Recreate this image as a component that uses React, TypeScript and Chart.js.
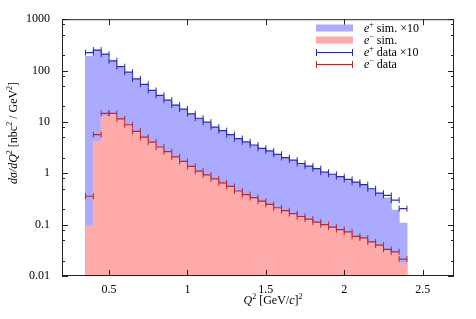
import { useEffect, useRef } from 'react';
import { Chart, registerables } from 'chart.js';

Chart.register(...registerables);

// Q^2 bins (lower edges, GeV^2), width 0.05
const binLow = [
  0.35, 0.4, 0.45, 0.5, 0.55, 0.6, 0.65, 0.7, 0.75, 0.8,
  0.85, 0.9, 0.95, 1.0, 1.05, 1.1, 1.15, 1.2, 1.25, 1.3,
  1.35, 1.4, 1.45, 1.5, 1.55, 1.6, 1.65, 1.7, 1.75, 1.8,
  1.85, 1.9, 1.95, 2.0, 2.05, 2.1, 2.15, 2.2, 2.25, 2.3, 2.35,
];
const binWidth = 0.05;

const ePlusSimX10 = [
  188, 248, 205, 152, 117, 91, 68, 53, 40.5, 32.5,
  26, 21, 17.5, 14.1, 11.6, 9.7, 7.8, 6.65, 5.55, 4.65,
  4.0, 3.48, 3.0, 2.66, 2.3, 1.98, 1.76, 1.52, 1.35, 1.2,
  1.02, 0.94, 0.84, 0.74, 0.655, 0.585, 0.49, 0.4, 0.33, 0.19, 0.107,
];
const eMinusSim = [
  0.095, 4.2, 12.8, 14.4, 11.3, 8.6, 6.45, 4.95, 3.95, 3.18,
  2.58, 2.05, 1.67, 1.33, 1.08, 0.91, 0.765, 0.64, 0.545, 0.443,
  0.377, 0.33, 0.28, 0.242, 0.209, 0.183, 0.161, 0.141, 0.125, 0.11,
  0.098, 0.088, 0.078, 0.07, 0.058, 0.054, 0.045, 0.039, 0.032, 0.0285, 0.018,
];
const ePlusDataX10 = [
  224, 250, 208, 155, 119, 93, 69, 54, 41, 33,
  26.5, 21.3, 17.8, 14.3, 11.8, 9.9, 7.95, 6.76, 5.66, 4.75,
  4.1, 3.55, 3.05, 2.72, 2.34, 2.02, 1.8, 1.55, 1.38, 1.23,
  1.05, 0.957, 0.86, 0.76, 0.67, 0.6, 0.5, 0.41, 0.37, 0.3, 0.205,
];
const eMinusData = [
  0.357, 5.66, 14.7, 14.7, 11.5, 8.8, 6.57, 5.05, 4.05, 3.25,
  2.64, 2.09, 1.7, 1.36, 1.1, 0.93, 0.78, 0.65, 0.556, 0.452,
  0.385, 0.337, 0.286, 0.247, 0.213, 0.187, 0.164, 0.144, 0.128, 0.112,
  0.1, 0.0896, 0.08, 0.072, 0.059, 0.055, 0.046, 0.04, 0.033, 0.0294, 0.0213,
];

const xTicks = [0.5, 1, 1.5, 2, 2.5];
const yTicks = [0.01, 0.1, 1, 10, 100, 1000];
const yMinorMultipliers = [2, 5, 8];

const BLUE_FILL = '#aaaaff';
const RED_FILL = '#ffaaaa';
const BLUE_LINE = '#2a2ab8';
const RED_LINE = '#b82a2a';
const FONT = '"Liberation Serif", "DejaVu Serif", serif';

type Part = { t: string; it?: boolean; sup?: boolean };

function drawRich(ctx: CanvasRenderingContext2D, parts: Part[], x: number, y: number, size: number, align: 'left' | 'center') {
  const fontFor = (p: Part) => `${p.it ? 'italic ' : ''}${p.sup ? Math.round(size * 0.7) : size}px ${FONT}`;
  let w = 0;
  for (const p of parts) {
    ctx.font = fontFor(p);
    w += ctx.measureText(p.t).width;
  }
  let cx = align === 'center' ? x - w / 2 : x;
  ctx.textAlign = 'left';
  ctx.textBaseline = 'alphabetic';
  for (const p of parts) {
    ctx.font = fontFor(p);
    ctx.fillText(p.t, cx, p.sup ? y - size * 0.38 : y);
    cx += ctx.measureText(p.t).width;
  }
}

const barPoints = (vals: number[]) => binLow.map((x, i) => ({ x: x + binWidth / 2, y: vals[i] }));

const errPoints = (vals: number[]) =>
  binLow.flatMap((x, i) => [
    { x, y: vals[i] as number | null },
    { x: x + binWidth, y: vals[i] as number | null },
    { x: x + binWidth, y: null as number | null },
  ]);

const legendItems: { kind: 'fill' | 'err'; color: string; parts: Part[] }[] = [
  { kind: 'fill', color: BLUE_FILL, parts: [{ t: 'e', it: true }, { t: '+', sup: true }, { t: ' sim. ×10' }] },
  { kind: 'fill', color: RED_FILL, parts: [{ t: 'e', it: true }, { t: '−', sup: true }, { t: ' sim.' }] },
  { kind: 'err', color: BLUE_LINE, parts: [{ t: 'e', it: true }, { t: '+', sup: true }, { t: ' data ×10' }] },
  { kind: 'err', color: RED_LINE, parts: [{ t: 'e', it: true }, { t: '−', sup: true }, { t: ' data' }] },
];

const framePlugin = {
  id: 'frameAndLabels',
  afterDatasetsDraw(chart: any) {
    const { ctx, chartArea: a, scales } = chart;
    const xs = scales.x;
    const ys = scales.y;
    ctx.save();
    ctx.strokeStyle = '#222';
    ctx.lineWidth = 1;
    ctx.strokeRect(a.left + 0.5, a.top + 0.5, a.right - a.left - 1, a.bottom - a.top - 1);
    ctx.beginPath();
    for (const v of xTicks) {
      const px = Math.round(xs.getPixelForValue(v)) + 0.5;
      ctx.moveTo(px, a.bottom);
      ctx.lineTo(px, a.bottom - 6);
      ctx.moveTo(px, a.top);
      ctx.lineTo(px, a.top + 6);
    }
    for (const v of yTicks) {
      const py = Math.round(ys.getPixelForValue(v)) + 0.5;
      ctx.moveTo(a.left, py);
      ctx.lineTo(a.left + 6, py);
      ctx.moveTo(a.right, py);
      ctx.lineTo(a.right - 6, py);
      if (v < 1000) {
        for (const m of yMinorMultipliers) {
          const pm = Math.round(ys.getPixelForValue(v * m)) + 0.5;
          ctx.moveTo(a.left, pm);
          ctx.lineTo(a.left + 3, pm);
          ctx.moveTo(a.right, pm);
          ctx.lineTo(a.right - 3, pm);
        }
      }
    }
    ctx.stroke();

    // legend
    const rowY = [28, 40, 52, 64];
    legendItems.forEach((it, i) => {
      const cy = rowY[i];
      if (it.kind === 'fill') {
        ctx.fillStyle = it.color;
        ctx.fillRect(316, cy - 3.5, 37, 7);
      } else {
        ctx.strokeStyle = it.color;
        ctx.lineWidth = 1;
        ctx.beginPath();
        ctx.moveTo(316, cy + 0.5);
        ctx.lineTo(353, cy + 0.5);
        ctx.moveTo(316.5, cy - 3);
        ctx.lineTo(316.5, cy + 4);
        ctx.moveTo(352.5, cy - 3);
        ctx.lineTo(352.5, cy + 4);
        ctx.stroke();
      }
      ctx.fillStyle = '#000';
      drawRich(ctx, it.parts, 364, cy + 4, 12, 'left');
    });

    // axis titles
    ctx.fillStyle = '#000';
    drawRich(ctx, [{ t: 'Q', it: true }, { t: '2', sup: true }, { t: ' [GeV/' }, { t: 'c', it: true }, { t: ']' }, { t: '2', sup: true }], 273, 304, 12, 'center');
    ctx.save();
    ctx.translate(17, 133);
    ctx.rotate(-Math.PI / 2);
    drawRich(
      ctx,
      [
        { t: 'dσ/dQ', it: true }, { t: '2', sup: true },
        { t: ' [nbc' }, { t: '2', sup: true }, { t: ' / GeV' }, { t: '2', sup: true }, { t: ']' },
      ],
      0, 0, 12, 'center'
    );
    ctx.restore();
    ctx.restore();
  },
};

export default function App() {
  const ref = useRef<HTMLCanvasElement>(null);
  useEffect(() => {
    document.body.style.margin = '0';
    const canvas = ref.current;
    if (!canvas) return;
    const tickFont = { family: FONT, size: 12 };
    const chart = new Chart(canvas, {
      type: 'line',
      data: {
        datasets: [
          {
            type: 'line',
            label: 'e- data',
            data: errPoints(eMinusData),
            borderColor: RED_LINE,
            borderWidth: 1.2,
            pointStyle: 'line',
            pointRotation: 90,
            pointRadius: 3,
            pointBorderWidth: 1,
            pointBorderColor: RED_LINE,
            fill: false,
            spanGaps: false,
            order: 0,
          },
          {
            type: 'line',
            label: 'e+ data x10',
            data: errPoints(ePlusDataX10),
            borderColor: BLUE_LINE,
            borderWidth: 1.2,
            pointStyle: 'line',
            pointRotation: 90,
            pointRadius: 3,
            pointBorderWidth: 1,
            pointBorderColor: BLUE_LINE,
            fill: false,
            spanGaps: false,
            order: 1,
          },
          {
            type: 'bar',
            label: 'e- sim.',
            data: barPoints(eMinusSim),
            backgroundColor: RED_FILL,
            borderWidth: 0,
            barPercentage: 1,
            categoryPercentage: 1,
            grouped: false,
            inflateAmount: 0.5,
            order: 2,
          },
          {
            type: 'bar',
            label: 'e+ sim. x10',
            data: barPoints(ePlusSimX10),
            backgroundColor: BLUE_FILL,
            borderWidth: 0,
            barPercentage: 1,
            categoryPercentage: 1,
            grouped: false,
            inflateAmount: 0.5,
            order: 3,
          },
        ] as any,
      },
      options: {
        animation: false,
        responsive: false,
        devicePixelRatio: 1,
        layout: { padding: { top: 15, right: 22, left: 0, bottom: 0 } },
        plugins: { legend: { display: false }, tooltip: { enabled: false } },
        scales: {
          x: {
            type: 'linear',
            min: 0.2,
            max: 2.7,
            offset: false,
            grid: { display: false, drawTicks: false, offset: false },
            border: { display: false },
            ticks: { font: tickFont, color: '#000', padding: 7, autoSkip: false, maxRotation: 0, callback: (v: any) => String(v) },
            afterBuildTicks: (s: any) => { s.ticks = xTicks.map((v) => ({ value: v })); },
            afterFit: (s: any) => { s.height = 43; },
          },
          y: {
            type: 'logarithmic',
            min: 0.01,
            max: 1000,
            grid: { display: false, drawTicks: false },
            border: { display: false },
            ticks: { font: tickFont, color: '#000', padding: 12, autoSkip: false, callback: (v: any) => String(v) },
            afterBuildTicks: (s: any) => { s.ticks = yTicks.map((v) => ({ value: v })); },
            afterFit: (s: any) => { s.width = 62; },
          },
        },
      } as any,
      plugins: [framePlugin],
    });
    return () => chart.destroy();
  }, []);
  return <canvas ref={ref} width={476} height={319} style={{ display: 'block' }} />;
}
